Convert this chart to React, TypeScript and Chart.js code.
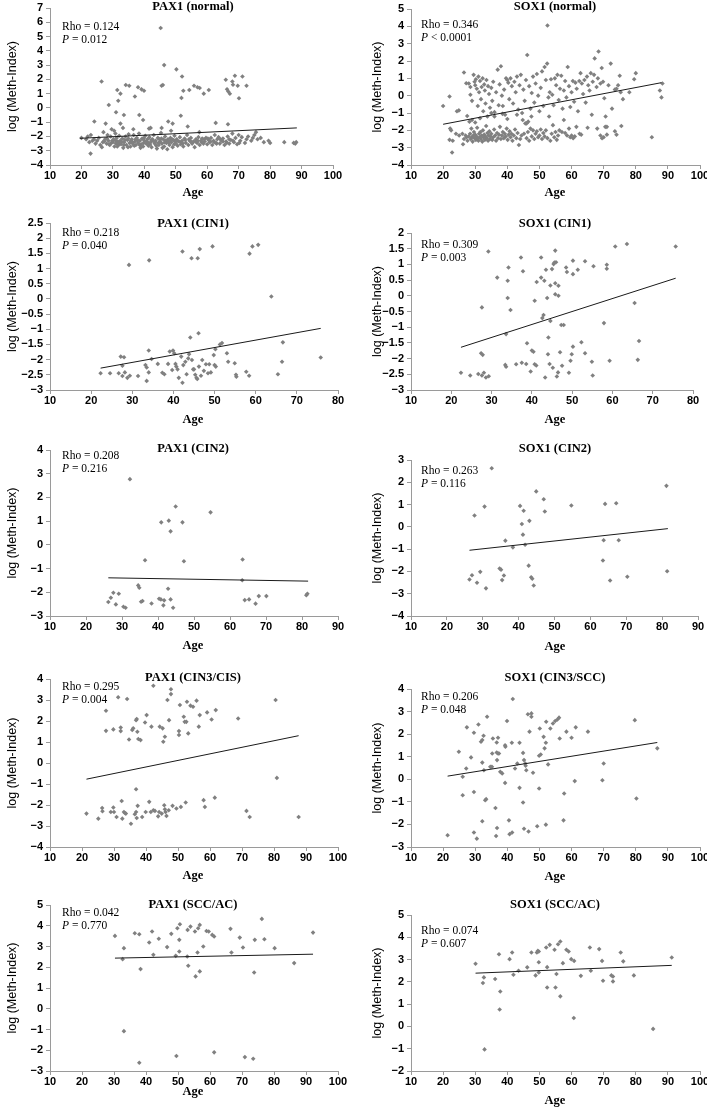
import React, { useEffect, useRef } from "react";
import { Chart, registerables } from "chart.js";
Chart.register(...registerables);

type Pt = [number, number];

// ---------- DATA ----------
const PANEL_TITLES = [
  "PAX1 (normal)", "SOX1 (normal)",
  "PAX1 (CIN1)", "SOX1 (CIN1)",
  "PAX1 (CIN2)", "SOX1 (CIN2)",
  "PAX1 (CIN3/CIS)", "SOX1 (CIN3/SCC)",
  "PAX1 (SCC/AC)", "SOX1 (SCC/AC)",
];
const RHO_LABELS = ["0.124", "0.346", "0.218", "0.309", "0.208", "0.263", "0.295", "0.206", "0.042", "0.074"];
const P_LABELS = ["= 0.012", "< 0.0001", "= 0.040", "= 0.003", "= 0.216", "= 0.116", "= 0.004", "= 0.048", "= 0.770", "= 0.607"];
const X_RANGES: Pt[] = [[10, 100], [10, 100], [10, 80], [10, 80], [10, 90], [10, 90], [10, 100], [10, 100], [10, 100], [10, 100]];
const Y_RANGES: Pt[] = [[-4, 7], [-4, 5], [-3, 2.5], [-3, 2], [-3, 4], [-4, 3], [-4, 4], [-3, 4], [-3, 5], [-2, 5]];
const Y_STEPS = [1, 1, 0.5, 0.5, 1, 1, 1, 1, 1, 1];
const X_TITLE = "Age";
const Y_TITLE = "log (Meth-Index)";

const PAX1_NORMAL: Pt[] = [
  [45.2, 5.6], [26.4, 1.85], [28.7, 0.2], [31.4, 1.25], [31.7, 0.5], [32.4, 1.0], [31, -0.3], [32.4, -1.1], [33.5, -0.5],
  [34.1, 1.6], [35.2, 1.55], [37, 0.8], [38, 1.45], [39.1, 1.3], [39.9, 1.2], [38.4, -0.5], [39.6, -0.85], [45.5, 1.55],
  [45.9, 1.6], [46.3, 3.0], [50.2, 2.7], [52, 2.2], [52.4, 1.2], [51.8, 0.7], [51.6, -0.55], [54.3, 1.25], [55.8, 1.55],
  [56.9, 1.45], [57.6, 1.4], [58.9, 1.0], [60.5, 1.25], [47.6, -0.95], [49, -1.1], [62.7, -1.05], [65.9, 1.97], [66.3, 1.31],
  [66.7, 1.15], [67.2, 0.99], [68, 1.85], [68.2, 1.62], [68.8, 2.25], [69.7, 1.55], [70.1, 0.68], [71.2, 2.2], [72.5, 1.55],
  [66.6, -1.15], [24.1, -0.95], [27.7, -1.1], [22.9, -3.2], [53.8, -1.3], [42, -1.4], [45.5, -1.4],
  [20, -2.1], [21.5, -2.2], [22, -2.0], [22.5, -2.4], [23, -1.9], [23.5, -2.3], [24, -2.2], [24.5, -2.5], [25, -2.3],
  [25.5, -2.1], [26, -2.6], [26.5, -2.75], [26.8, -2.4], [27, -1.7], [27.5, -2.2], [28, -2.5], [28.3, -1.9], [28.6, -2.3],
  [29, -2.6], [29.3, -2.0], [29.6, -1.5], [30, -2.4], [30.2, -2.2], [30.5, -2.7], [30.8, -1.8], [31, -2.5], [31.2, -2.1],
  [31.5, -2.35], [31.8, -2.6], [32, -1.95], [32.3, -2.3], [32.6, -2.55], [33, -2.15], [33.3, -2.8], [33.6, -2.4], [34, -2.0],
  [34.3, -2.6], [34.6, -2.25], [35, -1.85], [35.3, -2.45], [35.6, -2.7], [36, -2.2], [36.3, -2.5], [36.6, -1.9], [37, -2.35],
  [37.3, -2.6], [37.6, -2.1], [38, -2.45], [38.3, -1.8], [38.6, -2.3], [39, -2.55], [39.3, -2.15], [39.6, -2.7], [40, -2.3],
  [40.3, -1.95], [40.6, -2.5], [41, -2.2], [41.3, -2.65], [41.6, -2.05], [42, -2.4], [42.3, -2.75], [42.6, -2.2], [43, -1.9],
  [43.3, -2.5], [43.6, -2.3], [44, -2.85], [44.3, -2.1], [44.6, -2.6], [45, -2.35], [45.3, -1.75], [45.6, -2.5], [46, -2.2],
  [46.3, -2.7], [46.6, -2.0], [47, -2.45], [47.3, -2.9], [47.6, -2.3], [48, -2.6], [48.3, -2.1], [48.6, -2.4], [49, -2.75],
  [49.3, -2.25], [49.6, -1.95], [50, -2.5], [50.3, -2.2], [50.6, -2.65], [51, -2.35], [51.3, -2.05], [51.6, -2.55], [52, -2.3],
  [52.4, -2.7], [52.8, -2.15], [53.2, -2.45], [53.6, -1.9], [54, -2.6], [54.4, -2.3], [54.8, -2.1], [55.2, -2.5], [55.6, -2.35],
  [56, -2.75], [56.4, -2.2], [56.8, -2.45], [57.2, -2.05], [57.6, -2.6], [58, -2.3], [58.4, -2.15], [58.8, -2.5], [59.2, -2.35],
  [59.6, -2.1], [60, -2.55], [60.4, -2.25], [60.8, -2.4], [61.2, -2.1], [61.6, -2.6], [62, -2.3], [62.4, -1.9], [62.8, -2.45],
  [63.2, -2.2], [63.6, -2.05], [64, -2.5], [64.5, -2.3], [65, -2.15], [65.5, -2.6], [66, -2.35], [66.5, -2.0], [67, -2.5],
  [67.5, -2.25], [68, -1.8], [68.5, -2.4], [69, -2.1], [69.5, -2.55], [70, -1.9], [70.5, -2.3], [71, -2.05], [72, -2.45],
  [72.5, -2.2], [73, -2.0], [74, -2.3], [74.5, -2.1], [75, -1.9], [75.5, -1.7], [76, -2.2], [77, -2.1], [78, -2.4],
  [79.5, -2.3], [80, -2.45], [84.5, -2.4], [87.5, -2.45], [88, -2.5], [88.3, -2.4],
  [27.2, -2.35], [28.8, -2.55], [29.8, -2.3], [31.4, -2.7], [32.8, -2.4], [33.8, -2.25], [34.8, -2.75], [35.8, -2.3],
  [36.8, -2.65], [37.8, -2.25], [38.8, -2.8], [39.8, -2.45], [40.8, -2.35], [41.8, -2.55], [42.8, -2.3], [43.8, -2.65],
  [44.8, -2.2], [45.8, -2.8], [46.8, -2.3], [47.8, -2.45], [48.8, -2.2], [49.8, -2.35], [51.8, -2.4], [53, -2.25], [55, -2.4],
  [57, -2.3], [59, -2.2], [61, -2.35], [63, -2.5], [65, -2.35], [67, -2.2], [36.5, -1.5], [41.5, -1.45], [33.2, -1.4],
  [48.5, -1.6], [57.5, -1.7], [30.4, -1.6],
  [28.1, -2.15], [29.5, -2.45], [30.9, -2.3], [32.1, -2.45], [33.5, -2.6], [34.9, -2.15], [36.1, -2.4], [37.2, -2.2],
  [38.5, -2.6], [39.9, -2.1], [41.1, -2.45], [42.2, -2.25], [43.4, -2.4], [44.5, -2.45], [45.4, -2.15], [46.5, -2.4],
  [47.5, -2.2], [48.4, -2.3], [49.5, -2.55], [50.5, -2.3], [52.2, -2.5], [54.2, -2.2], [56.2, -2.35], [58.2, -2.4],
  [60.2, -2.15], [62.2, -2.4], [64.2, -2.2], [66.2, -2.45], [68.2, -2.3], [70.2, -2.45],
];
const PAX1_NORMAL_TREND: Pt[] = [[19.5, -2.13], [88.5, -1.4]];

const SOX1_NORMAL: Pt[] = [
  [20, -0.6], [22, -0.05], [22.2, -1.9], [22, -2.55], [22.8, -3.28], [24.3, -0.9], [24.9, -0.85], [26.5, 1.34], [27.2, 0.72],
  [27.5, -1.17], [28.5, 0.5], [28, 0.7], [28.5, 0.05], [29, -0.3], [29.5, 1.2], [29.8, 0.8], [30, 0.6], [30.2, 0.95], [30.5, 0.4],
  [30.8, -0.6], [31, 1.1], [31.2, 0.2], [31.5, 0.85], [31.8, -0.2], [32, 0.5], [32.3, 1.0], [32.5, -0.9], [32.8, 0.65], [33, 0.3],
  [33.2, -0.45], [33.5, 0.9], [33.8, -1.2], [34, 0.55], [34.3, 0.1], [34.6, -0.7], [35, 0.45], [35.3, -0.3], [35.6, 0.8],
  [36, -0.95], [36.5, 0.2], [37, 1.5], [37.3, -0.55], [37.6, 0.65], [38, 1.7], [38.3, 0.0], [38.6, -0.6], [39, 0.35],
  [39.3, -1.1], [39.6, 1.0], [40, 0.9], [40.3, 0.75], [40.6, -0.2], [41, 1.0], [41.4, 0.55], [41.8, -0.45], [42.2, 0.8],
  [42.6, 0.2], [43, 1.1], [43.4, -0.8], [43.8, 0.6], [44.2, 1.2], [44.6, -1.0], [45, 0.35], [45.4, -0.3], [45.8, 0.9],
  [46.2, 2.35], [46.5, -1.5], [46.8, 0.55], [47.2, -0.75], [47.6, 0.15], [48, 1.1], [48.4, -0.4], [48.8, 0.7], [49.2, 1.25],
  [49.6, 0.0], [50, -0.9], [50.4, 0.45], [50.8, 1.4], [51.2, -0.6], [51.6, 1.65], [52, 0.9], [52.4, 1.85], [52.8, -0.1],
  [53.2, 0.2], [53.6, 0.95], [54, 0.05], [54.4, -0.55], [54.8, 1.0], [55.2, 0.6], [55.6, 1.2], [56, -0.25], [56.4, 0.4],
  [56.8, 1.15], [57.2, -0.75], [57.6, 0.3], [58, 0.85], [58.4, -0.1], [58.8, 1.65], [59.2, 0.55], [59.6, -0.65], [60, 0.2],
  [60.4, 0.85], [60.8, -0.35], [61.2, 0.75], [61.6, 0.4], [62, -0.9], [62.4, 0.85], [62.8, 1.3], [63.2, 0.7], [63.6, 0.1],
  [64, 0.9], [64.4, -0.4], [64.8, 1.1], [65.2, 0.6], [65.6, 0.3], [66, 1.3], [66.3, -1.1], [66.6, 0.8], [67, 1.2], [67.2, 2.15],
  [67.8, 0.5], [68.2, 1.0], [68.4, 2.55], [69, 0.7], [69.4, 1.6], [69.8, 0.8], [70.2, -0.15], [70.6, -1.2], [71, -1.8],
  [71.5, 0.6], [72.2, 1.85], [72.6, -0.75], [73.5, 0.35], [74, 0.4], [74.5, 0.6], [75, 1.15], [75.3, 0.2], [75.5, -1.75],
  [76, -0.2], [78, 0.2], [79.5, 0.95], [80, 1.3], [87.5, 0.3], [88, -0.1], [88.3, 0.7], [52.5, 4.05],
  [22.5, -2.0], [23, -2.6], [24, -2.2], [25, -2.3], [26, -2.2], [26.5, -2.5], [27, -2.3], [27.3, -2.4], [27.6, -2.6], [28, -2.35],
  [28.2, -1.5], [28.4, -2.2], [28.6, -2.5], [28.8, -1.9], [29, -2.4], [29.2, -2.65], [29.4, -2.3], [29.6, -2.1], [29.8, -2.45],
  [30, -2.25], [30.2, -2.55], [30.4, -2.35], [30.6, -1.85], [30.8, -2.45], [31, -2.6], [31.2, -2.2], [31.4, -2.4], [31.6, -2.1],
  [31.8, -2.5], [32, -2.3], [32.2, -2.65], [32.4, -2.0], [32.6, -2.4], [32.8, -2.25], [33, -2.55], [33.2, -2.35], [33.4, -1.75],
  [33.6, -2.45], [33.8, -2.15], [34, -2.6], [34.2, -2.3], [34.4, -2.05], [34.6, -2.5], [34.8, -2.35], [35, -2.2], [35.3, -2.55],
  [35.6, -2.4], [35.9, -1.95], [36.2, -2.3], [36.5, -2.6], [36.8, -2.15], [37.1, -2.45], [37.4, -2.25], [37.7, -1.8], [38, -2.5],
  [38.3, -2.3], [38.6, -2.1], [38.9, -2.45], [39.2, -2.2], [39.5, -2.35], [39.8, -1.9], [40.1, -2.55], [40.4, -2.25],
  [40.7, -2.05], [41, -2.4], [41.3, -2.2], [41.6, -2.6], [42, -2.3], [42.4, -1.95], [42.8, -2.45], [43.2, -2.15], [43.6, -2.85],
  [44, -2.5], [44.4, -2.3], [44.8, -1.4], [45.2, -2.2], [45.6, -1.6], [46, -2.45], [46.4, -2.1], [46.8, -2.6], [47.2, -1.9],
  [47.6, -2.35], [48, -2.0], [48.4, -2.5], [48.8, -2.2], [49.2, -2.05], [49.6, -2.4], [50, -2.3], [50.4, -1.95], [50.8, -2.5],
  [51.2, -2.15], [51.6, -2.35], [52, -2.0], [52.5, -2.45], [53, -1.2], [53.4, -2.6], [53.8, -2.2], [54.2, -1.7], [54.6, -2.4],
  [55, -2.1], [55.4, -2.55], [55.8, -2.3], [56.2, -2.0], [57, -2.1], [57.6, -1.4], [58, -2.15], [58.6, -2.3], [59.2, -1.9],
  [59.6, -2.4], [60, -2.3], [60.5, -2.45], [61, -2.35], [61.5, -1.8], [62.5, -2.2], [63, -2.25], [65, -1.85], [68, -1.9],
  [69, -2.3], [69.5, -2.45], [70, -2.4], [70.5, -1.8], [71, -2.25], [73.5, -2.05], [74, -2.25], [85, -2.4], [26.2, -2.8],
  [29, -1.4], [30, -1.55], [31.5, -1.3], [35, -1.0], [36, -1.2], [38.5, -1.05], [40, -1.35], [43, -1.1], [46, -1.6], [47.5, -1.2],
];
const SOX1_NORMAL_TREND: Pt[] = [[20, -1.65], [88, 0.75]];

const PAX1_CIN1: Pt[] = [
  [22.3, -2.45], [24.6, -2.45], [26.7, -2.45], [27.2, -1.9], [28, -1.92], [27.6, -2.2], [27.6, -2.54], [28.2, -2.42], [28.8, -2.6],
  [29.4, -2.53], [29.2, 1.12], [31.4, -2.54], [33.2, -2.18], [33.5, -2.26], [33.5, -2.7], [34, -1.7], [34, -2.42], [34.1, 1.27],
  [34.7, -1.98], [36.2, -2.14], [37.3, -2.43], [37.8, -2.48], [38.7, -2.14], [39.1, -1.73], [39.7, -2.34], [39.9, -1.7],
  [40.2, -1.79], [40.5, -2.14], [40.7, -2.23], [41, -2.32], [41.3, -2.6], [41.9, -1.9], [42.2, -2.76], [42.4, -2.18], [42.2, 1.56],
  [42.9, -2.07], [43.2, -2.48], [43.6, -1.96], [43.8, -1.82], [44.1, -1.27], [44.4, 1.34], [44.5, -2.01], [44.8, -2.32],
  [45, -2.32], [45.3, -2.5], [45.6, -2.6], [45.8, -2.64], [45.9, 1.34], [46.1, -1.13], [46.2, -2.23], [46.4, 1.64], [46.7, -2.53],
  [47, -2.01], [47.4, -2.37], [47.9, -2.15], [48.4, -2.45], [48.7, -2.15], [49.1, -2.42], [49.5, 1.73], [49.8, -1.85], [50, -2.18],
  [50.2, -1.66], [50.3, -2.23], [51.3, -1.5], [51.8, -1.45], [53, -1.79], [53.3, -2.07], [54.9, -2.12], [55.2, -2.5],
  [55.3, -2.56], [57.7, -2.4], [58.4, -2.53], [58.5, 1.49], [59.2, 1.73], [60.6, 1.78], [63.8, 0.08], [65.4, -2.48],
  [66.4, -2.07], [66.6, -1.43], [75.8, -1.93],
];
const PAX1_CIN1_TREND: Pt[] = [[22.3, -2.28], [75.8, -0.97]];

const SOX1_CIN1: Pt[] = [
  [22.4, -2.45], [24.7, -2.54], [26.7, -2.49], [27.4, -1.83], [27.8, -1.88], [27.6, -2.54], [28.1, -2.45], [28.6, -2.6],
  [29.3, -2.56], [27.6, -0.37], [29.2, 1.41], [31.4, 0.58], [33.4, -2.2], [33.6, -2.26], [33.6, -1.22], [34, 0.48], [34, -0.07],
  [34.2, 0.9], [34.7, -0.45], [36.1, -2.18], [37.3, 1.22], [37.8, 0.78], [37.5, -2.13], [38.6, -2.17], [38.8, -1.51],
  [39.7, -2.41], [40, -1.74], [40.4, -1.78], [40.7, -0.16], [40.7, -2.18], [41.1, -2.22], [41.2, 0.44], [42.3, 1.22],
  [42.3, 0.58], [42.6, -0.71], [42.9, -0.61], [43.1, 0.48], [43.3, -2.6], [43.5, 0.83], [43.8, -0.07], [44, -1.86],
  [44.1, -1.33], [44.4, -2.17], [44.6, -0.8], [44.6, 0.33], [45, 0.85], [45.2, -2.29], [45.4, 1.01], [45.6, 1.06], [45.8, 1.44],
  [45.8, 0.4], [45.8, 0.05], [46, 1.07], [46.2, -2.57], [46.5, -2.44], [46.6, 0.32], [46.6, 0], [47, -1.8], [47.3, -0.93],
  [47.5, -2.23], [47.9, -0.93], [48.5, 0.9], [48.7, 0.76], [49.2, -2.45], [49.6, -2.07], [49.9, -1.86], [50.2, 1.12],
  [50.2, -1.62], [50.2, 0.69], [51.4, 0.83], [52.3, -1.48], [53.2, 1.1], [53.2, -1.83], [54.9, -2.1], [55.1, -2.54],
  [55.3, 0.94], [57.9, -0.87], [58.6, 0.99], [58.6, 0.86], [59.3, -2.07], [60.7, 1.57], [63.6, 1.65], [65.5, -0.23],
  [66.3, -2.04], [66.6, -1.44], [75.7, 1.57],
];
const SOX1_CIN1_TREND: Pt[] = [[22.4, -1.64], [75.7, 0.56]];

const PAX1_CIN2: Pt[] = [
  [26.2, -2.41], [26.9, -2.23], [27.6, -2.02], [28.3, -2.51], [29.1, -2.06], [30.4, -2.61], [31, -2.65], [32.2, 2.77],
  [34.5, -1.71], [34.8, -1.81], [35.3, -2.4], [35.7, -2.37], [36.4, -0.65], [38.2, -2.47], [40.3, -2.27], [40.9, 0.95],
  [40.8, -2.3], [41.5, -2.55], [41.7, -2.34], [43, 1.02], [42.8, -1.85], [43.5, -2.3], [43.5, 0.57], [44.2, -2.65], [44.9, 1.62],
  [46.8, 0.95], [47.2, -0.69], [54.6, 1.37], [63.5, -0.62], [63.4, -1.49], [64.1, -2.33], [65.3, -2.3], [67.1, -2.48],
  [68, -2.16], [70.1, -2.16], [81.2, -2.12], [81.5, -2.06],
];
const PAX1_CIN2_TREND: Pt[] = [[26.2, -1.39], [81.7, -1.53]];

const SOX1_CIN2: Pt[] = [
  [26.3, -2.36], [27, -2.17], [27.7, 0.51], [28.4, -2.51], [29.3, -2.02], [30.5, 0.91], [30.9, -2.76], [32.5, 2.63],
  [34.7, -1.87], [35.1, -1.92], [35.4, -2.39], [35.9, -2.18], [36.3, -0.62], [38.4, -0.92], [40.4, 0.94], [40.9, 0.13],
  [41.2, -0.35], [41.4, 0.72], [41.8, -0.8], [42.8, -1.74], [43, 0.27], [43.5, -2.26], [43.8, -2.33], [44.2, -2.63],
  [44.9, 1.59], [47, 1.24], [47.3, 0.69], [54.7, 0.96], [63.7, -0.6], [63.5, -1.51], [64.1, 1.03], [65.5, -2.41], [67.2, 1.06],
  [67.9, -0.6], [70.3, -2.24], [81.2, 1.84], [81.4, -1.99],
];
const SOX1_CIN2_TREND: Pt[] = [[26.3, -1.05], [81.6, -0.08]];

const PAX1_CIN3: Pt[] = [
  [21.4, -2.41], [25.1, -2.65], [26.3, -2.14], [26.4, -2.3], [27.5, 2.49], [27.5, 1.53], [29, -2.33], [29.8, 1.6], [30, -2.33],
  [29.8, -2.12], [30.8, -2.57], [31.3, 3.13], [32.1, 1.69], [32.1, 1.52], [32.4, -1.81], [32.6, -2.65], [33.1, -2.33],
  [33.4, -2.38], [33.7, -2.41], [34.1, 3.05], [34.7, 1.12], [35.3, -2.89], [35.7, 1.57], [36, 1.65], [36.5, -2.44],
  [36.9, -1.25], [36.9, 2.04], [37.1, 2.09], [37.1, -2.62], [36.9, -2.33], [37.3, 1.49], [37.4, -2.04], [37.6, 1.14],
  [38.3, 1.09], [38.8, -2.57], [39.7, 1.93], [40.2, 2.28], [39.9, -2.33], [41, -1.85], [41.5, -2.33], [41.7, 1.73],
  [42.3, -2.25], [42.3, 3.68], [42.8, -2.28], [43.8, -2.54], [44.1, -2.33], [44.3, 1.73], [44.9, -2.41], [45.2, 1.65],
  [45.4, 1.01], [45.7, -2.01], [45.9, -2.2], [45.9, 1.25], [46.1, -2.33], [46.4, -2.52], [46.7, 3.0], [47.1, -2.25],
  [47.2, 2.04], [47.8, 3.51], [47.8, 3.28], [48.3, -2.04], [49.5, -2.17], [50.3, 1.52], [50.3, 1.33], [50.6, 2.76],
  [50.9, -2.09], [51.8, 2.2], [52.1, 1.96], [52.4, -1.88], [52.6, 1.96], [52.8, 2.92], [53.2, 1.41], [53.9, 2.73],
  [54.7, 2.68], [55.8, 2.97], [56.5, 1.73], [56.8, 2.28], [58, -1.77], [58.4, -2.09], [59.1, 2.41], [60.5, 2.07],
  [61.5, -1.65], [61.8, 2.52], [68.8, 2.12], [71.4, -2.28], [72.4, -2.57], [80.5, 3.0], [80.9, -0.71], [87.7, -2.57],
];
const PAX1_CIN3_TREND: Pt[] = [[21.4, -0.77], [87.7, 1.3]];

const SOX1_CIN3: Pt[] = [
  [21.4, -2.48], [24.9, 1.22], [26.1, 0.11], [26.1, -0.71], [27.2, 0.48], [27.4, 2.3], [28.7, 0.97], [29.6, -0.56],
  [29.6, -2.36], [29.6, 2.06], [30.5, -2.63], [31, 2.43], [31.8, 1.66], [32.2, 1.74], [32.2, 0.74], [32.2, -1.86], [32.6, 1.93],
  [32.7, 0.4], [33.1, -0.93], [33.4, -0.88], [33.7, 2.77], [34.7, 0.55], [35.2, 0.55], [35.3, 1.14], [35.5, 1.81],
  [36.3, -1.27], [36.5, -2.51], [36.7, 1.19], [36.7, 1.63], [36.8, 0.85], [37.1, 1.14], [37.1, 1.84], [36.8, -2.16],
  [37.4, 1.14], [37.8, 0.33], [38.4, 0.26], [39.3, -0.16], [39.3, 1.51], [39.4, 1.44], [39.9, 2.58], [40.5, -1.82],
  [40.7, -2.43], [41.4, 1.62], [41.5, -2.36], [41.7, 3.56], [42.4, 0.48], [43.1, 0.7], [43.8, 1.62], [43.8, -0.38],
  [44.9, 1.17], [44.9, -1.03], [45.2, 0.85], [45.2, -2.19], [45.6, 0.7], [45.7, 0.6], [45.9, 0.4], [46.4, 2.88], [46.6, -2.31],
  [46.9, 2.11], [47.5, 2.92], [47.5, 2.77], [48, 0.29], [49.3, -2.08], [49.9, 1.04], [49.9, -0.41], [50.1, 2.25], [50.4, 1.1],
  [51.3, 1.88], [51.6, 1.37], [52, 1.62], [52, -2.01], [52.1, 2.55], [52.7, 0.66], [53.4, 2.25], [54.2, 2.47], [54.9, 2.58],
  [55.6, 2.65], [56.1, 2.73], [56.3, 1.81], [57.7, -0.63], [57.5, -1.82], [58.4, 2.11], [60, 1.84], [61, -0.08], [61.3, 2.3],
  [65.1, 2.11], [69.6, -0.04], [70, 0.7], [79.7, 2.62], [80.2, -0.85], [86.7, 1.37],
];
const SOX1_CIN3_TREND: Pt[] = [[21.4, 0.14], [86.7, 1.63]];

const PAX1_SCC: Pt[] = [
  [30.3, 3.51], [32.7, 2.39], [33.1, 2.92], [33.1, -1.08], [36.5, 3.64], [37.9, 3.59], [37.9, -2.6], [38.3, 1.91], [41, 3.19],
  [41.9, 3.72], [42.3, 2.6], [44, 3.37], [46.6, 2.97], [47.9, 3.61], [49.3, 2.55], [49.5, -2.28], [49.8, 3.88], [50.4, 2.76],
  [50.4, 3.32], [50.6, 4.07], [52.9, 2.52], [53, 3.8], [53.2, 2.07], [53.9, 3.96], [55.3, 3.72], [55.5, 1.56], [56.1, 2.71],
  [56.3, 3.88], [56.8, 4.04], [56.8, 1.8], [57.9, 3.0], [58.9, 3.75], [59.6, 3.72], [60.7, 3.56], [61.3, -2.1], [61.3, 3.48],
  [66.4, 3.85], [66.7, 2.71], [69.3, 3.43], [70.3, 2.95], [70.9, -2.33], [73.5, -2.41], [73.8, 1.75], [74, 3.32], [76.2, 4.33],
  [77, 3.35], [80.2, 2.92], [86.3, 2.2], [92.2, 3.67],
];
const PAX1_SCC_TREND: Pt[] = [[30.3, 2.44], [92.2, 2.63]];

const SOX1_SCC: Pt[] = [
  [30.1, 2.81], [32.4, 1.95], [32.7, 2.2], [32.9, -1.03], [36.2, 2.13], [37.4, 3.24], [37.8, 1.57], [37.6, 0.76], [40.7, 3.02],
  [41.5, 3.32], [41.9, 2.32], [43.5, 2.5], [46.2, 2.65], [47.5, 3.32], [48.8, 2.29], [49.2, 3.32], [49.5, 3.39], [49.8, 2.42],
  [49.8, 3.36], [49.8, 2.88], [52.1, 3.54], [52.4, 1.75], [52.4, 2.66], [53.2, 3.66], [54.7, 3.44], [55, 1.75], [55.3, 2.35],
  [55.8, 3.69], [56.5, 3.81], [56.5, 1.35], [57.3, 2.84], [58.4, 3.44], [59.1, 3.36], [59.9, 3.02], [60.7, 0.38], [60.8, 2.94],
  [62.9, 2.27], [65.7, 3.54], [66, 2.5], [68.6, 3.47], [69.5, 2.94], [69.8, 2.05], [72.4, 2.29], [72.9, 2.24], [72.9, 2.02],
  [75.3, 3.32], [76.1, 2.92], [79.4, 2.29], [85.4, -0.11], [91.2, 3.09],
];
const SOX1_SCC_TREND: Pt[] = [[30.1, 2.39], [91.2, 2.74]];

const POINTS: Pt[][] = [PAX1_NORMAL, SOX1_NORMAL, PAX1_CIN1, SOX1_CIN1, PAX1_CIN2, SOX1_CIN2, PAX1_CIN3, SOX1_CIN3, PAX1_SCC, SOX1_SCC];
const TRENDS: Pt[][] = [PAX1_NORMAL_TREND, SOX1_NORMAL_TREND, PAX1_CIN1_TREND, SOX1_CIN1_TREND, PAX1_CIN2_TREND, SOX1_CIN2_TREND, PAX1_CIN3_TREND, SOX1_CIN3_TREND, PAX1_SCC_TREND, SOX1_SCC_TREND];

// ---------- LAYOUT ----------
const AREAS = [
  [50, 8, 333, 165], [411, 9, 700, 165],
  [50, 223, 338, 390], [411, 233, 693, 390],
  [50, 450, 338, 616], [411, 460, 698, 616],
  [50, 679, 338, 847], [411, 689, 700, 847],
  [50, 905, 338, 1071], [411, 915, 700, 1071],
];
const ROWS = [[0, 215], [215, 440], [440, 662], [662, 885], [885, 1109]];
const TITLE_Y = [7, 7, 224, 224, 449, 449, 678, 678, 905, 905];
const RHO_Y = [27, 25, 233, 245, 456, 471, 687, 697, 913, 931];
const AGE_Y = [193, 193, 420, 420, 646, 647, 876, 877, 1092, 1101];
const COL_X = [0, 353];
const COL_W = [353, 354];
const COL_CENTER = [193, 555];
const RHO_X = [62, 421];
const YTITLE_X = [13, 378];

const AXIS_COLOR = "#9a9a9a";
const TEXT_COLOR = "#000";
const POINT_COLOR = "#808080";

function fmt(v: number | string) {
  const n = Math.round(Number(v) * 10) / 10;
  return String(n).replace("-", "\u2212");
}

function Panel({ i }: { i: number }) {
  const ref = useRef<HTMLCanvasElement>(null);
  const col = i % 2;
  const row = Math.floor(i / 2);
  const cx = COL_X[col];
  const cw = COL_W[col];
  const [ct, cb] = ROWS[row];
  const ch = cb - ct;

  useEffect(() => {
    const [l, t, r, b] = AREAS[i];
    const tickFont = { family: "Arial, 'Liberation Sans', sans-serif", size: 11, weight: "bold" };
    const textPlugin = {
      id: "panelText" + i,
      afterDraw(chart: any) {
        const ctx = chart.ctx as CanvasRenderingContext2D;
        const ca = chart.chartArea;
        ctx.save();
        ctx.fillStyle = TEXT_COLOR;
        ctx.textBaseline = "middle";
        ctx.font = "bold 12.5px 'Liberation Serif', 'Times New Roman', serif";
        ctx.textAlign = "center";
        ctx.fillText(PANEL_TITLES[i], COL_CENTER[col] - cx, TITLE_Y[i] - ct);
        ctx.fillText(X_TITLE, COL_CENTER[col] - cx, AGE_Y[i] - ct);
        ctx.textAlign = "left";
        ctx.font = "11.5px 'Liberation Serif', 'Times New Roman', serif";
        const rx = RHO_X[col] - cx;
        ctx.fillText("Rho = " + RHO_LABELS[i], rx, RHO_Y[i] - ct);
        ctx.font = "italic 11.5px 'Liberation Serif', 'Times New Roman', serif";
        ctx.fillText("P", rx, RHO_Y[i] + 13 - ct);
        const pw = ctx.measureText("P").width;
        ctx.font = "11.5px 'Liberation Serif', 'Times New Roman', serif";
        ctx.fillText(" " + P_LABELS[i], rx + pw, RHO_Y[i] + 13 - ct);
        ctx.font = "12.5px 'Liberation Sans', Arial, sans-serif";
        ctx.textAlign = "center";
        ctx.translate(YTITLE_X[col] - cx, (ca.top + ca.bottom) / 2);
        ctx.rotate(-Math.PI / 2);
        ctx.fillText(Y_TITLE, 0, 0);
        ctx.restore();
      },
    };

    const chart = new Chart(ref.current!, {
      type: "scatter",
      data: {
        datasets: [
          {
            data: TRENDS[i].map(([x, y]) => ({ x, y })),
            showLine: true,
            borderColor: "#1a1a1a",
            borderWidth: 1,
            pointRadius: 0,
            order: 0,
          },
          {
            data: POINTS[i].map(([x, y]) => ({ x, y })),
            pointStyle: "rectRot",
            pointRadius: 2.3,
            backgroundColor: POINT_COLOR,
            borderColor: POINT_COLOR,
            borderWidth: 0,
            order: 1,
          },
        ],
      } as any,
      options: {
        responsive: false,
        animation: false,
        devicePixelRatio: 1,
        events: [],
        layout: { padding: { left: 0, top: t - ct, right: cx + cw - r, bottom: 0 } },
        plugins: { legend: { display: false }, tooltip: { enabled: false }, title: { display: false } },
        scales: {
          x: {
            type: "linear",
            min: X_RANGES[i][0],
            max: X_RANGES[i][1],
            ticks: { stepSize: 10, autoSkip: false, maxRotation: 0, font: tickFont, color: TEXT_COLOR, padding: 0, callback: (v: any) => fmt(v) },
            grid: { drawOnChartArea: false, drawTicks: true, tickLength: 4, color: AXIS_COLOR },
            border: { color: AXIS_COLOR, width: 1 },
            afterFit: (s: any) => {
              s.height = cb - b;
              s.paddingLeft = 0;
              s.paddingRight = 0;
            },
          },
          y: {
            type: "linear",
            min: Y_RANGES[i][0],
            max: Y_RANGES[i][1],
            ticks: { stepSize: Y_STEPS[i], autoSkip: false, font: tickFont, color: TEXT_COLOR, padding: 3, callback: (v: any) => fmt(v) },
            grid: { drawOnChartArea: false, drawTicks: true, tickLength: 4, color: AXIS_COLOR },
            border: { color: AXIS_COLOR, width: 1 },
            afterFit: (s: any) => {
              s.width = l - cx;
              s.paddingTop = 0;
              s.paddingBottom = 0;
            },
          },
        },
      } as any,
      plugins: [textPlugin],
    });
    return () => chart.destroy();
  }, []);

  return (
    <canvas
      ref={ref}
      width={cw}
      height={ch}
      style={{ position: "absolute", left: cx, top: ct, width: cw, height: ch, display: "block" }}
    />
  );
}

export default function App() {
  return (
    <div style={{ position: "absolute", left: 0, top: 0, width: 707, height: 1109, background: "#fff", overflow: "hidden" }}>
      {PANEL_TITLES.map((_, i) => (
        <Panel key={i} i={i} />
      ))}
    </div>
  );
}
